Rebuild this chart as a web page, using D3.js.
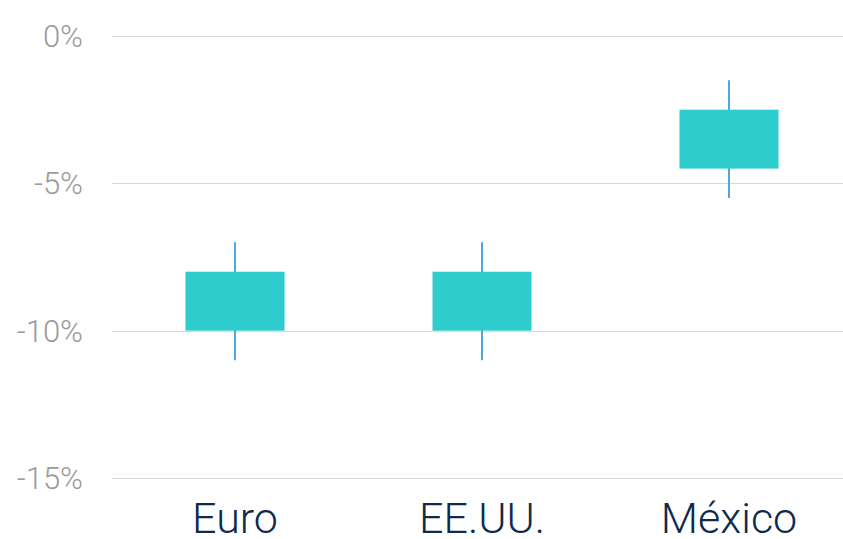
<!DOCTYPE html>
<html>
<head>
<meta charset="utf-8">
<script src="https://cdn.jsdelivr.net/npm/d3@7"></script>
<style>
  html, body { margin: 0; padding: 0; background: #fff; }
  svg { display: block; font-family: Roboto, "Noto Sans", sans-serif; }
</style>
</head>
<body>
<svg id="chart" width="843" height="539"></svg>
<script>
// Range of outcomes per currency (percent)
const categories = ["Euro", "EE.UU.", "México"];
const boxHigh = [-8, -8, -2.5];
const boxLow = [-10, -10, -4.5];
const whiskerHigh = [-7, -7, -1.5];
const whiskerLow = [-11, -11, -5.5];
const yTicks = [0, -5, -10, -15];

const svg = d3.select("#chart");
const W = 843;

const x = d3.scaleBand()
  .domain(categories)
  .range([111.5, 852.5])
  .paddingInner(0.6)
  .paddingOuter(0.3);

const y = d3.scaleLinear()
  .domain([0, -15])
  .range([36, 478]);

// Gridlines
svg.append("g")
  .selectAll("line")
  .data(yTicks)
  .join("line")
  .attr("x1", 112)
  .attr("x2", W)
  .attr("y1", d => Math.round(y(d)) + 0.5)
  .attr("y2", d => Math.round(y(d)) + 0.5)
  .attr("stroke", "#d9d9d9")
  .attr("stroke-width", 1);

// Y tick labels
svg.append("g")
  .selectAll("text")
  .data(yTicks)
  .join("text")
  .attr("x", 83)
  .attr("y", d => y(d))
  .attr("dy", "0.35em")
  .attr("text-anchor", "end")
  .attr("font-size", 31)
  .attr("font-weight", 300)
  .attr("fill", "#9a9a9a")
  .text(d => d + "%");

const data = categories.map((c, i) => ({
  c, hi: boxHigh[i], lo: boxLow[i], wHi: whiskerHigh[i], wLo: whiskerLow[i]
}));

const cx = d => x(d.c) + x.bandwidth() / 2;
const boxW = 99;

// Whiskers
svg.append("g")
  .selectAll("line")
  .data(data)
  .join("line")
  .attr("x1", cx)
  .attr("x2", cx)
  .attr("y1", d => y(d.wHi))
  .attr("y2", d => y(d.wLo))
  .attr("stroke", "#4ea6e2")
  .attr("stroke-width", 2);

// Boxes
svg.append("g")
  .selectAll("rect")
  .data(data)
  .join("rect")
  .attr("x", d => cx(d) - boxW / 2)
  .attr("width", boxW)
  .attr("y", d => y(d.hi))
  .attr("height", d => y(d.lo) - y(d.hi))
  .attr("fill", "#2ecccc");

// Category labels
svg.append("g")
  .selectAll("text")
  .data(categories)
  .join("text")
  .attr("x", d => x(d) + x.bandwidth() / 2)
  .attr("y", 533)
  .attr("text-anchor", "middle")
  .attr("font-size", 43)
  .attr("font-weight", 300)
  .attr("fill", "#0e2a4d")
  .text(d => d);
</script>
</body>
</html>
